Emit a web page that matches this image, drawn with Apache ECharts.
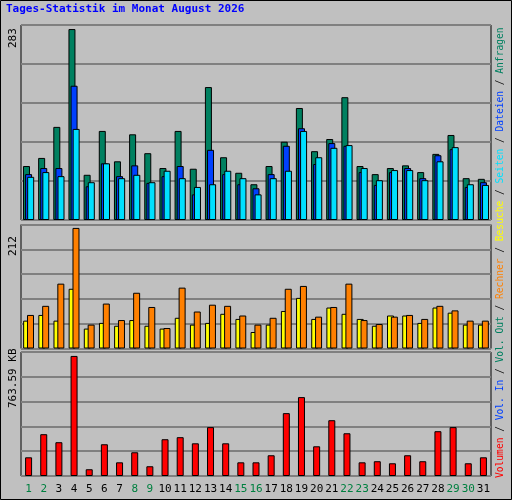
<!DOCTYPE html>
<html><head><meta charset="utf-8">
<script src="https://cdn.jsdelivr.net/npm/echarts@6/dist/echarts.min.js"></script>
<style>html,body{margin:0;padding:0;background:#c0c0c0}#c{width:512px;height:500px}</style>
</head><body><div id="c"></div>
<script>
const days = Array.from({length:31},(_,i)=>String(i+1));
const weekend = [1,2,8,9,15,16,22,23,29,30];
const anfragen = [80,92,138,283,67,132,87,127,99,77,132,76,197,93,70,53,80,116,166,102,120,182,80,68,77,81,71,98,126,62,61];
const dateien  = [68,77,77,199,50,84,65,81,55,65,80,38,104,68,53,47,68,110,136,83,114,110,71,52,71,77,62,96,105,49,56];
const seiten   = [64,71,65,135,56,84,62,67,56,73,62,49,53,73,62,38,62,73,132,93,107,111,77,59,74,74,59,87,108,53,52];
const besuche  = [49,59,49,105,35,45,40,50,40,35,54,42,45,61,52,29,42,66,89,52,72,61,52,40,58,58,45,72,63,42,42];
const rechner  = [59,75,114,212,42,79,50,98,73,36,107,65,77,75,58,42,54,105,110,56,73,114,50,43,56,59,52,75,67,49,49];
const volumen  = [119,266,215,764,43,202,87,151,62,234,247,208,311,208,87,87,132,400,502,189,355,272,87,94,81,132,94,285,311,81,119];

const mono = 'DejaVu Sans Mono';
const grids = [
  {left:21,right:21,top:25,height:195},
  {left:21,right:21,top:224.5,height:124},
  {left:21,right:21,top:352,height:124}
].map(g=>Object.assign(g,{show:true,borderColor:'#000',borderWidth:1,backgroundColor:'#c0c0c0'}));
const maxes = [289,218,789];
const xAxes = grids.map((g,i)=>({gridIndex:i,type:'category',data:days,axisLine:{show:false},axisTick:{show:false},
  axisLabel:{show:i===2,fontFamily:mono,fontSize:11,margin:8,interval:0,
    color:(v)=>weekend.includes(+v)?'#008040':'#000'}}));
const yAxes = maxes.map((m,i)=>({gridIndex:i,type:'value',min:0,max:m,interval:m/5,
  axisLabel:{show:false},axisLine:{show:false},axisTick:{show:false},
  splitLine:{lineStyle:{color:'#808080',width:2}}}));
const bs = (name,data,color,xi,gap)=>({name,type:'bar',data,xAxisIndex:xi,yAxisIndex:xi,barWidth:7,barGap:gap,
  itemStyle:{color,borderColor:'#000',borderWidth:1},animation:false});
const chart = echarts.init(document.getElementById('c'));
chart.setOption({
  backgroundColor:'#c0c0c0',
  animation:false,
  grid:grids,xAxis:xAxes,yAxis:yAxes,
  series:[
    bs('Anfragen',anfragen,'#008060',0,'-70%'),
    bs('Dateien',dateien,'#0040ff',0,'-70%'),
    bs('Seiten',seiten,'#00e0ff',0,'-70%'),
    bs('Besuche',besuche,'#ffff00',1,'-45%'),
    bs('Rechner',rechner,'#ff8000',1,'-45%'),
    bs('Volumen',volumen,'#ff0000',2,'-45%')
  ],
  graphic:[
    {type:'rect',shape:{x:0.5,y:0.5,width:511,height:499},style:{fill:'none',stroke:'#000',lineWidth:1}},
    {type:'text',left:6,top:4,style:{text:'Tages-Statistik im Monat August 2026',fill:'#0000ff',font:'bold 11px "DejaVu Sans Mono"'}},
    {type:'text',x:8,y:48,rotation:Math.PI/2,style:{text:'283',fill:'#000',font:'11px "DejaVu Sans Mono"'}},
    {type:'text',x:8,y:256,rotation:Math.PI/2,style:{text:'212',fill:'#000',font:'11px "DejaVu Sans Mono"'}},
    {type:'text',x:8,y:408,rotation:Math.PI/2,style:{text:'763.59 KB',fill:'#000',font:'11px "DejaVu Sans Mono"'}},
    {type:'text',x:495,y:478,rotation:Math.PI/2,style:{
      text:'{r|Volumen} / {b|Vol. In} / {g|Vol. Out} / {o|Rechner} / {y|Besuche} / {c|Seiten} / {b|Dateien} / {g|Anfragen}',
      font:'9.6px "DejaVu Sans Mono"',fill:'#000',
      rich:{r:{fill:'#ff0000',font:'9.6px "DejaVu Sans Mono"'},b:{fill:'#0040ff',font:'9.6px "DejaVu Sans Mono"'},
        g:{fill:'#008060',font:'9.6px "DejaVu Sans Mono"'},o:{fill:'#ff8000',font:'9.6px "DejaVu Sans Mono"'},
        y:{fill:'#ffff00',font:'9.6px "DejaVu Sans Mono"'},c:{fill:'#00e0ff',font:'9.6px "DejaVu Sans Mono"'}}}}
  ]
});
</script></body></html>
